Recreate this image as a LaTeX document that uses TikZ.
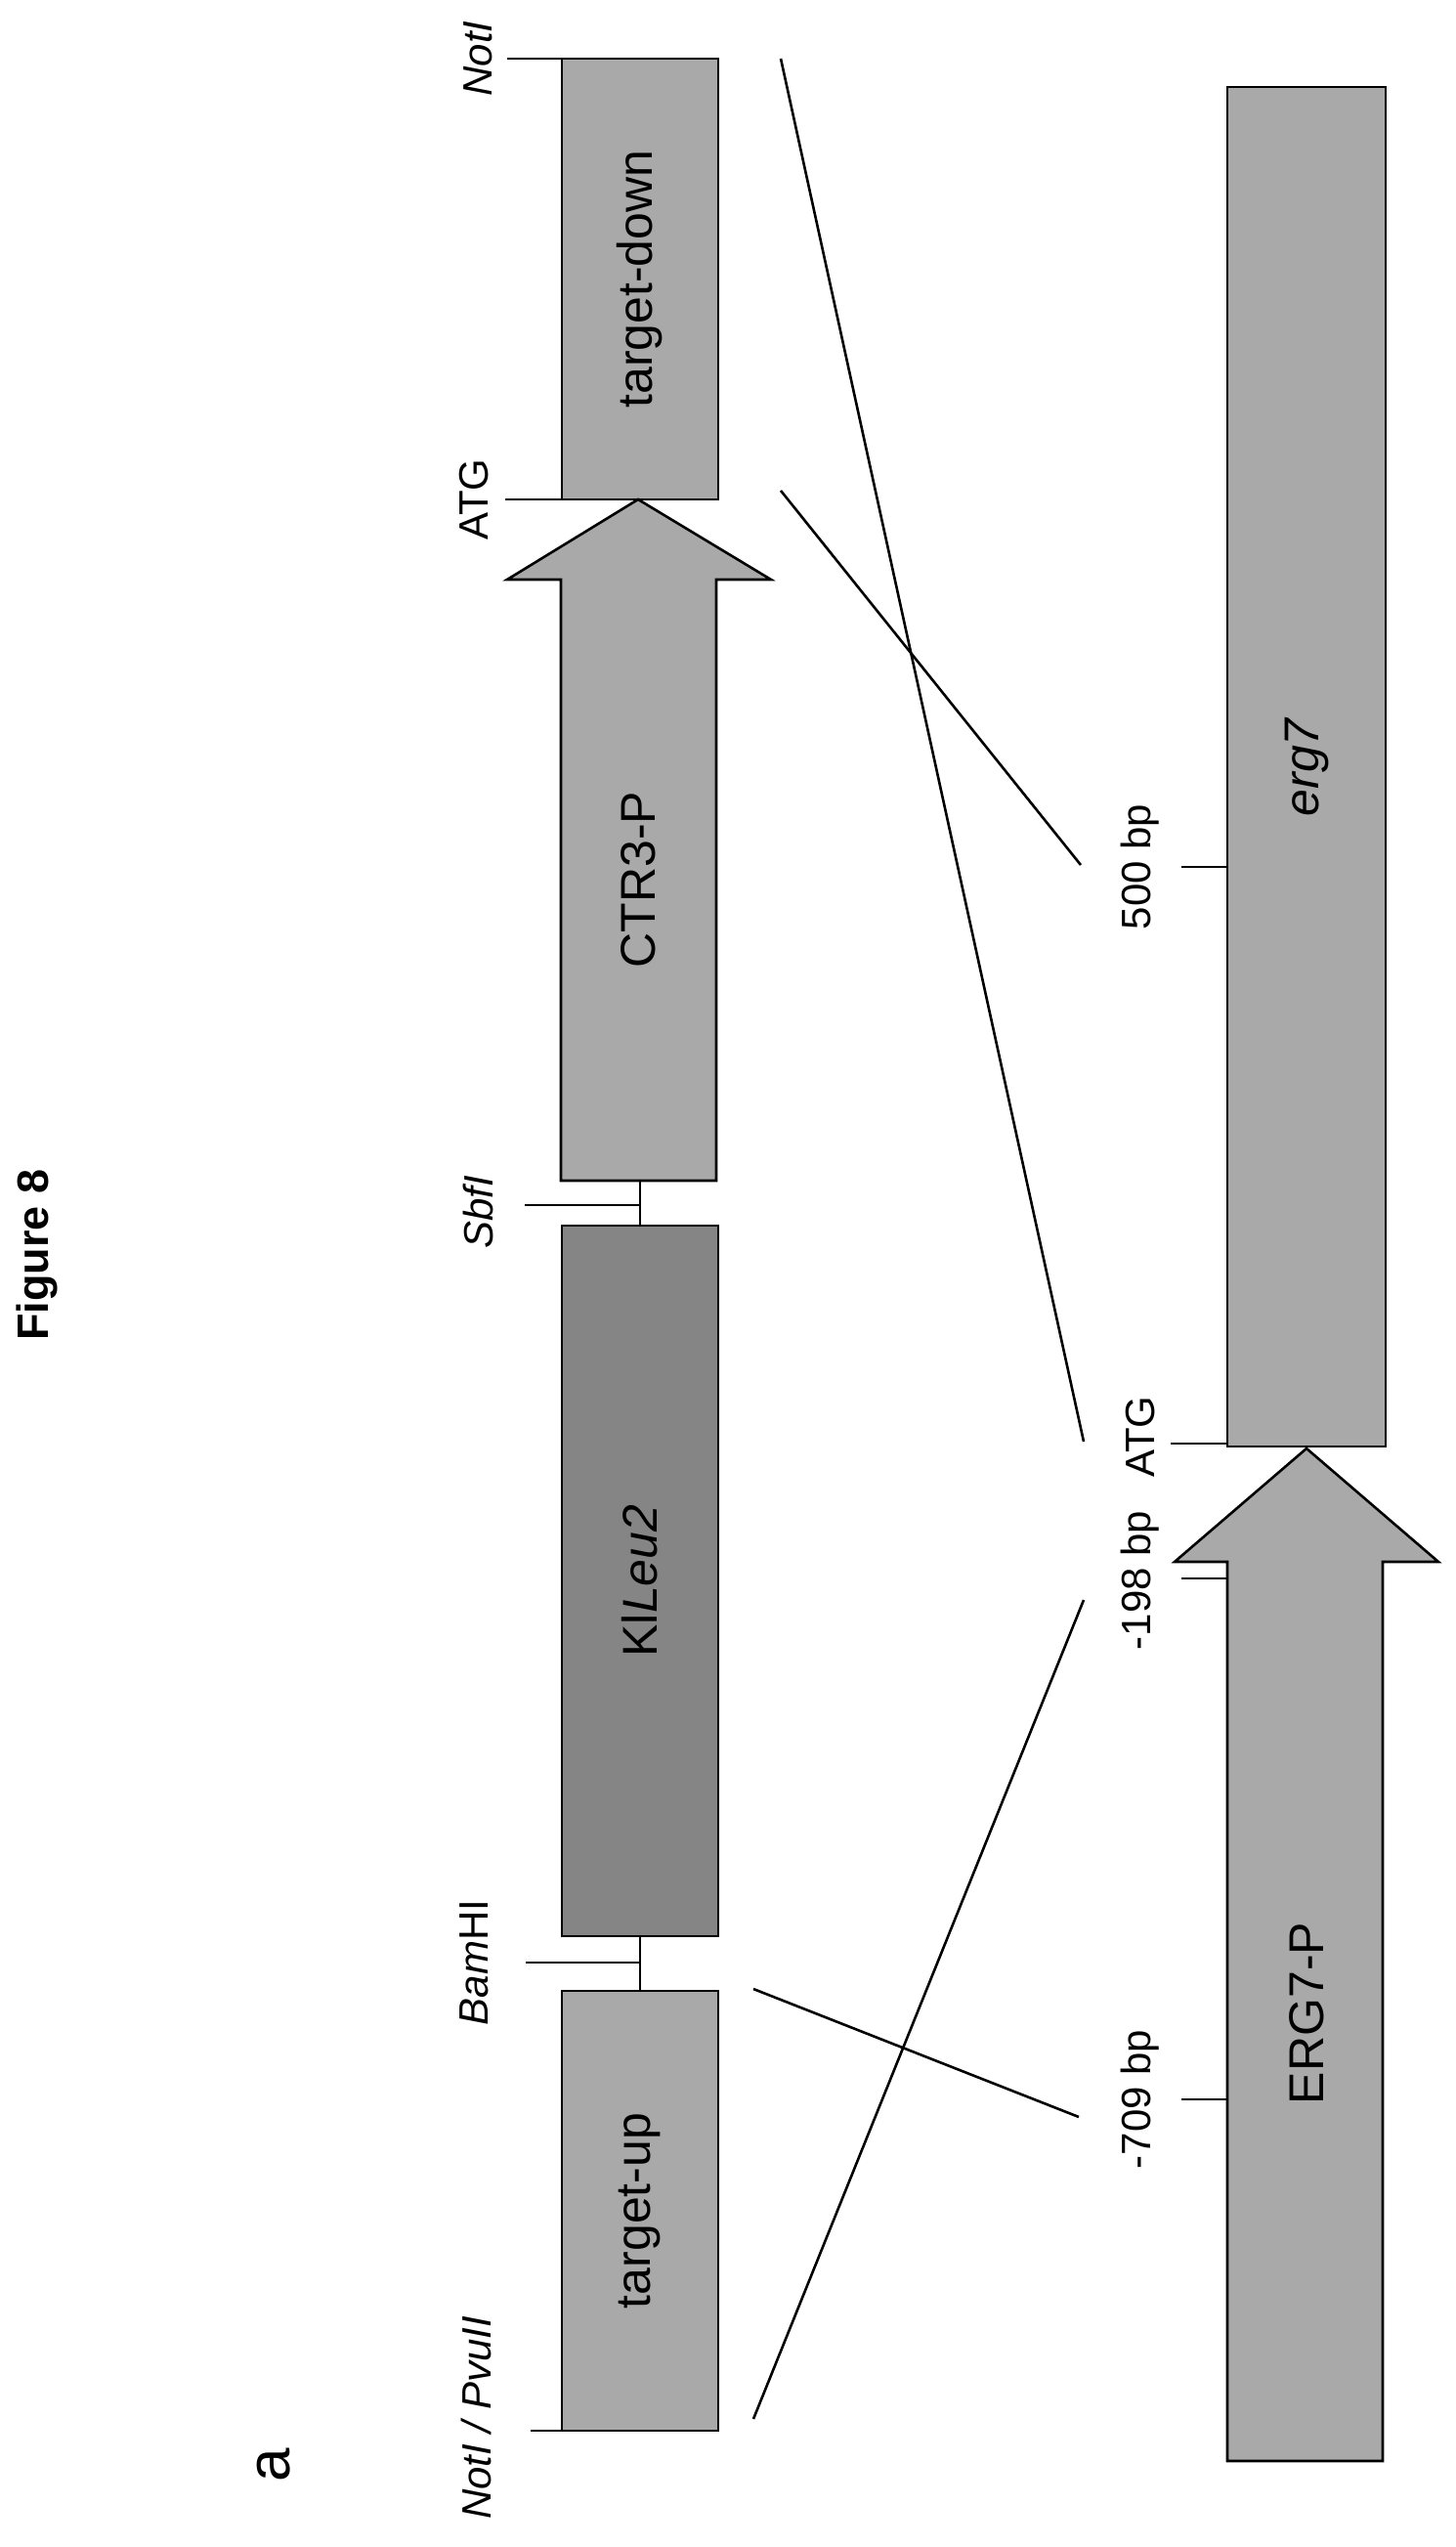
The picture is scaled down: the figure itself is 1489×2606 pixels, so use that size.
\documentclass[tikz,border=0pt]{standalone}
\usepackage{fontspec}
\setmainfont{Liberation Sans}
\usetikzlibrary{calc}
\definecolor{boxgray}{HTML}{A9A9A9}
\definecolor{darkgray}{HTML}{858585}
\begin{document}
\begin{tikzpicture}[x=1pt,y=-1pt,line width=2.6pt,
  box/.style={draw,fill=boxgray,inner sep=0pt,font=\fontsize{50}{56}\selectfont},
  lbl/.style={rotate=90,inner sep=0pt,font=\fontsize{42}{48}\selectfont},
  tick/.style={line width=2.2pt}]
  \useasboundingbox (0,0) rectangle (1489,2606);
  % Title
  \node[rotate=90,font=\bfseries\fontsize{45}{50}\selectfont] (title) at (38,1284) {Figure 8};
  \node[rotate=90,font=\fontsize{62}{68}\selectfont] (panel) at (280,2522) {a};

  % Construct
  \node[box,minimum width=160pt,minimum height=451pt] (tdown) at (655,285.5) {\rotatebox{90}{target-down}};
  \draw[fill=boxgray] (574,1208) -- (574,593) -- (519,593) -- (653,511) -- (789,593) -- (733,593) -- (733,1208) -- cycle;
  \node[inner sep=0pt,font=\fontsize{50}{56}\selectfont] (ctr) at (653,900) {\rotatebox{90}{CTR3-P}};
  \node[box,fill=darkgray,minimum width=160pt,minimum height=727pt] (klleu) at (655,1617.5) {\rotatebox{90}{Kl\textit{Leu2}}};
  \node[box,minimum width=160pt,minimum height=450pt] (tup) at (655,2262) {\rotatebox{90}{target-up}};

  % Sites
  \draw[tick] (519,60) -- (575,60);
  \draw[tick] (517,511) -- (575,511);
  \draw[tick] (537,1233) -- (655,1233);
  \draw[tick] (655,1208) -- (655,1254);
  \draw[tick] (538,2008) -- (655,2008);
  \draw[tick] (655,1981) -- (655,2037);
  \draw[tick] (543,2487) -- (575,2487);
  \node[lbl] (notA) at (489,60) {\textit{NotI}};
  \node[lbl] (atgA) at (485,511) {ATG};
  \node[lbl] (sbf) at (489,1240) {\textit{SbfI}};
  \node[lbl] (bam) at (485,2008) {\textit{Bam}HI};
  \node[lbl] (notB) at (487,2474) {\textit{NotI / PvuII}};

  % Genome
  \node[box,minimum width=162pt,minimum height=1391pt] (erg) at (1337,784.5) {\rotatebox{90}{\textit{erg7}}};
  \draw[fill=boxgray] (1256,2518) -- (1256,1598) -- (1202,1598) -- (1337,1482) -- (1472,1598) -- (1415,1598) -- (1415,2518) -- cycle;
  \node[inner sep=0pt,font=\fontsize{50}{56}\selectfont] (ergp) at (1337,2060) {\rotatebox{90}{ERG7-P}};
  \draw[tick] (1209,887) -- (1256,887);
  \draw[tick] (1198,1477) -- (1256,1477);
  \draw[tick] (1209,1615) -- (1256,1615);
  \draw[tick] (1209,2148) -- (1256,2148);
  \node[lbl] (bp500) at (1167,887) {500 bp};
  \node[lbl] (atgB) at (1167,1470) {ATG};
  \node[lbl] (bp198) at (1167,1617) {-198 bp};
  \node[lbl] (bp709) at (1167,2148) {-709 bp};

  % Crossovers
  \coordinate (a1) at (799,60);   \coordinate (b1) at (1109,1475);
  \coordinate (a2) at (799,502);  \coordinate (b2) at (1106,885);
  \coordinate (a3) at (771,2475); \coordinate (b3) at (1109,1637);
  \coordinate (a4) at (771,2035); \coordinate (b4) at (1104,2166);
  \draw (a1) -- (b1);
  \draw (a2) -- (b2);
  \draw (a3) -- (b3);
  \draw (a4) -- (b4);
\end{tikzpicture}
\end{document}
